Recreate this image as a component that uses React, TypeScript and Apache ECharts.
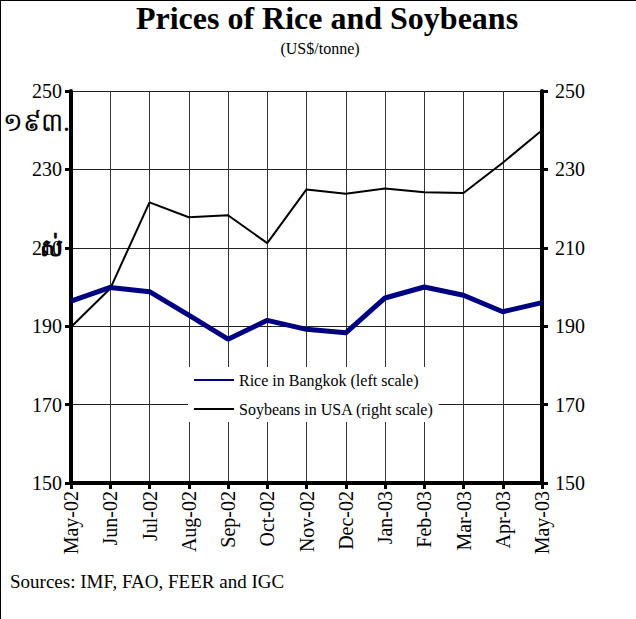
import React, { useEffect, useRef } from "react";
import * as echarts from "echarts";

const categories = ["May-02", "Jun-02", "Jul-02", "Aug-02", "Sep-02", "Oct-02", "Nov-02", "Dec-02", "Jan-03", "Feb-03", "Mar-03", "Apr-03", "May-03"];
const riceBangkok = [196.4, 199.9, 198.8, 192.8, 186.7, 191.5, 189.2, 188.3, 197.2, 200.0, 197.9, 193.7, 196.0];
const soybeansUSA = [189.8, 199.6, 221.6, 217.8, 218.3, 211.2, 224.9, 223.8, 225.1, 224.2, 224.0, 231.7, 240.0];
const yTicks = { min: 150, max: 250, interval: 20 };
const titleText = "Prices of Rice and Soybeans";
const subtitleText = "(US$/tonne)";
const sourceText = "Sources: IMF, FAO, FEER and IGC";
const artifactTexts = ["១៩៣.", "ស់"];

const SERIF = "'Liberation Serif', 'Times New Roman', serif";

export default function App() {
  const ref = useRef<HTMLDivElement>(null);
  useEffect(() => {
    document.body.style.margin = "0";
    const chart = echarts.init(ref.current!, null, { renderer: "svg" });
    const axisLabel = { color: "#000", fontFamily: SERIF, fontSize: 20 };
    chart.setOption({
      animation: false,
      backgroundColor: "#fff",
      grid: { left: 71, right: 94, top: 91, bottom: 136 },
      xAxis: {
        type: "category",
        data: categories,
        boundaryGap: false,
        axisLine: { lineStyle: { color: "#000", width: 4 } },
        axisTick: { show: true, inside: false, length: 6, lineStyle: { color: "#000", width: 3 } },
        axisLabel: { ...axisLabel, rotate: 90, margin: 8, interval: 0 },
        splitLine: { show: true, lineStyle: { color: "#333", width: 1 } },
      },
      yAxis: [
        {
          type: "value",
          position: "left",
          min: yTicks.min,
          max: yTicks.max,
          interval: yTicks.interval,
          axisLine: { show: true, lineStyle: { color: "#000", width: 4 } },
          axisTick: { show: true, inside: false, length: 6, lineStyle: { color: "#000", width: 3 } },
          axisLabel: { ...axisLabel, margin: 9 },
          splitLine: { show: true, lineStyle: { color: "#222", width: 1 } },
        },
        {
          type: "value",
          position: "right",
          min: yTicks.min,
          max: yTicks.max,
          interval: yTicks.interval,
          axisLine: { show: true, lineStyle: { color: "#000", width: 4 } },
          axisTick: { show: true, inside: false, length: 6, lineStyle: { color: "#000", width: 3 } },
          axisLabel: { ...axisLabel, margin: 13 },
          splitLine: { show: false },
        },
      ],
      legend: {
        orient: "vertical",
        left: 188,
        top: 367,
        padding: [5, 5, 5, 5],
        backgroundColor: "#fff",
        itemWidth: 40,
        itemHeight: 14,
        itemGap: 13,
        itemStyle: { opacity: 0 },
        textStyle: { color: "#000", fontFamily: SERIF, fontSize: 16 },
        data: ["Rice in Bangkok (left scale)", "Soybeans in USA (right scale)"],
      },
      series: [
        {
          name: "Rice in Bangkok (left scale)",
          type: "line",
          yAxisIndex: 0,
          data: riceBangkok,
          symbol: "none",
          lineStyle: { color: "#000080", width: 5 },
          itemStyle: { color: "#000080" },
          z: 3,
        },
        {
          name: "Soybeans in USA (right scale)",
          type: "line",
          yAxisIndex: 1,
          data: soybeansUSA,
          symbol: "none",
          lineStyle: { color: "#000", width: 2 },
          itemStyle: { color: "#000" },
          z: 2,
        },
      ],
      graphic: [
        { type: "line", shape: { x1: 0.5, y1: 0, x2: 0.5, y2: 619 }, style: { stroke: "#000", lineWidth: 1 } },
        { type: "line", shape: { x1: 0, y1: 0.5, x2: 636, y2: 0.5 }, style: { stroke: "#000", lineWidth: 1 } },
        { type: "text", x: 327, y: 2, style: { text: titleText, font: `bold 32px ${SERIF}`, fill: "#000", textAlign: "center", textVerticalAlign: "top" } },
        { type: "text", x: 320, y: 40, style: { text: subtitleText, font: `16px ${SERIF}`, fill: "#000", textAlign: "center", textVerticalAlign: "top" } },
        { type: "text", x: 10, y: 572, style: { text: sourceText, font: `19px ${SERIF}`, fill: "#000", textAlign: "left", textVerticalAlign: "top" } },
        { type: "text", x: 3, y: 108, z: 100, style: { text: artifactTexts[0], font: `26px 'Noto Sans', 'DejaVu Sans', sans-serif`, fill: "#000", textAlign: "left", textVerticalAlign: "top" } },
        { type: "text", x: 40, y: 234, z: 100, style: { text: artifactTexts[1], font: `bold 24px 'Noto Sans', 'DejaVu Sans', sans-serif`, fill: "#000", textAlign: "left", textVerticalAlign: "top" } },
      ],
    });
    return () => chart.dispose();
  }, []);
  return <div ref={ref} style={{ position: "absolute", left: 0, top: 0, width: 636, height: 619 }} />;
}
